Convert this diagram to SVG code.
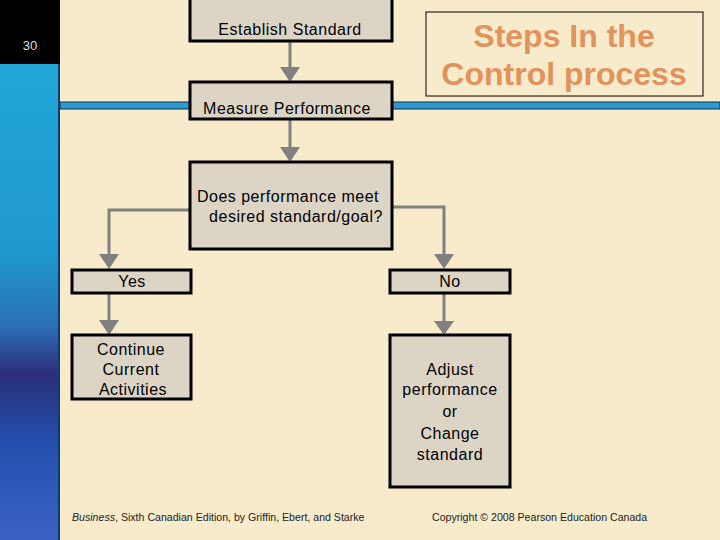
<svg xmlns="http://www.w3.org/2000/svg" width="720" height="540" viewBox="0 0 720 540">
<style>
.box{fill:#DCD5C6;stroke:#000;stroke-width:3}
.t{font-family:"Liberation Sans",Arial,sans-serif;font-size:16px;letter-spacing:0.5px;fill:#000;text-anchor:middle}
.c{fill:none;stroke:#808080;stroke-width:3}
.h{fill:#808080}
.foot{font-family:"Liberation Sans",Arial,sans-serif;font-size:10.6px;fill:#222}
.ttl{font-family:"Liberation Sans",Arial,sans-serif;font-size:32px;font-weight:bold;fill:#E2925C;text-anchor:middle}
</style>
<defs>
<linearGradient id="strip" x1="0" y1="0" x2="0" y2="1">
<stop offset="0" stop-color="#22A6D8"/>
<stop offset="0.4" stop-color="#1E98CF"/>
<stop offset="0.55" stop-color="#2a6fb8"/>
<stop offset="0.65" stop-color="#2b2f78"/>
<stop offset="0.8" stop-color="#2450b0"/>
<stop offset="1" stop-color="#3a62c4"/>
</linearGradient>
</defs>
<rect width="720" height="540" fill="#F8EBCB"/>
<rect x="0" y="0" width="60" height="64" fill="#000"/>
<text x="30" y="50" font-family="Liberation Sans,Arial,sans-serif" font-size="13" fill="#ddd" text-anchor="middle">30</text>
<rect x="0" y="64" width="60" height="476" fill="url(#strip)"/>
<rect x="58" y="64" width="2" height="476" fill="#0d3c6a"/>
<rect x="60" y="102" width="660" height="7" fill="#2E9AD0" stroke="#0b2e50" stroke-width="1"/>

<g id="connectors">
<path class="c" d="M290,41 V68"/><path class="h" d="M280,67 L300,67 L290,82 Z"/>
<path class="c" d="M290,119 V148"/><path class="h" d="M280,147 L300,147 L290,162 Z"/>
<path class="c" d="M190,210 H109 V255"/><path class="h" d="M99,254 L119,254 L109,269 Z"/>
<path class="c" d="M392,207 H444 V255"/><path class="h" d="M434,254 L454,254 L444,269 Z"/>
<path class="c" d="M109,293 V321"/><path class="h" d="M99,320 L119,320 L109,335 Z"/>
<path class="c" d="M444,293 V322"/><path class="h" d="M434,321 L454,321 L444,335 Z"/>
</g>

<g id="establish">
<rect class="box" x="190" y="-5" width="202" height="46"/>
<text class="t" x="290" y="35">Establish Standard</text>
</g>
<g id="measure">
<rect class="box" x="190" y="82" width="202" height="37"/>
<text class="t" x="287" y="114">Measure Performance</text>
</g>
<g id="decision">
<rect class="box" x="190" y="162" width="202" height="87"/>
<text class="t" x="288" y="202">Does performance meet</text>
<text class="t" x="296" y="222">desired standard/goal?</text>
</g>
<g id="yes">
<rect class="box" x="72" y="270" width="119" height="23"/>
<text class="t" x="132" y="287">Yes</text>
</g>
<g id="no">
<rect class="box" x="390" y="270" width="120" height="23"/>
<text class="t" x="450" y="287">No</text>
</g>
<g id="continue">
<rect class="box" x="72" y="335" width="119" height="64"/>
<text class="t" x="131" y="355">Continue</text>
<text class="t" x="131" y="375">Current</text>
<text class="t" x="133" y="395">Activities</text>
</g>
<g id="adjust">
<rect class="box" x="390" y="335" width="120" height="152"/>
<text class="t" x="450" y="375">Adjust</text>
<text class="t" x="450" y="395">performance</text>
<text class="t" x="450" y="417">or</text>
<text class="t" x="450" y="439">Change</text>
<text class="t" x="450" y="460">standard</text>
</g>
<g id="title">
<rect x="426" y="12" width="277" height="84" fill="none" stroke="#000" stroke-width="1"/>
<text class="ttl" x="564" y="47">Steps In the</text>
<text class="ttl" x="564" y="85">Control process</text>
</g>
<text class="foot" x="72" y="521"><tspan font-style="italic">Business</tspan>, Sixth Canadian Edition, by Griffin, Ebert, and Starke</text>
<text class="foot" x="432" y="521">Copyright © 2008 Pearson Education Canada</text>
</svg>
